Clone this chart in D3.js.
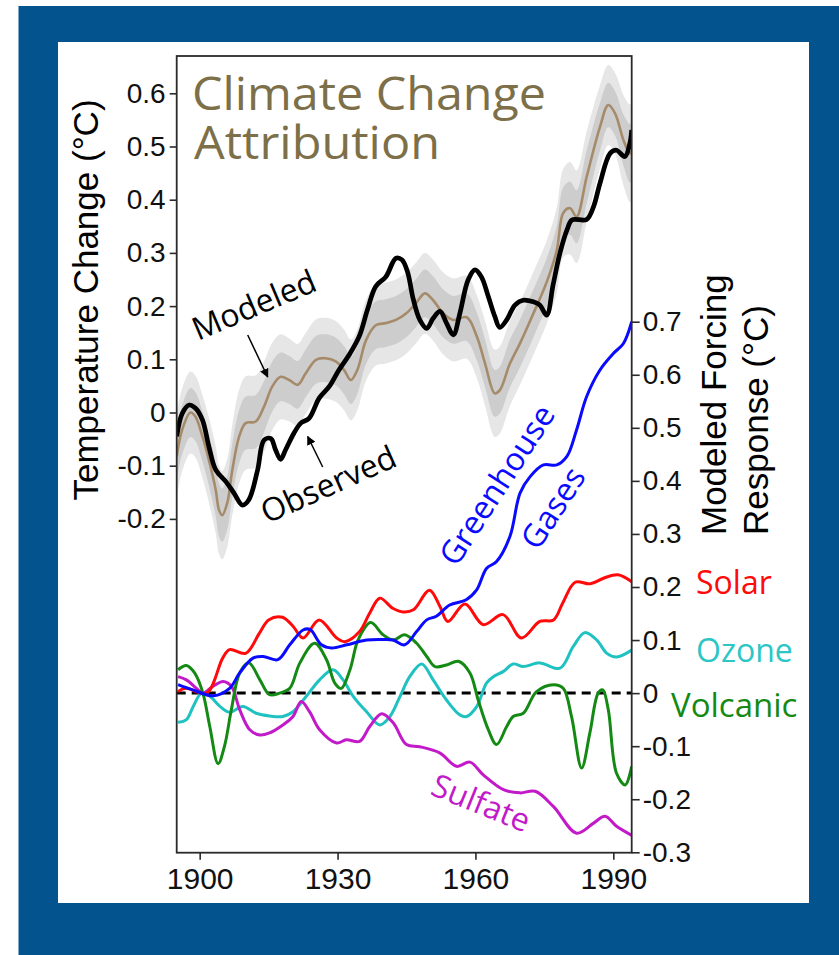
<!DOCTYPE html>
<html>
<head>
<meta charset="utf-8">
<script src="https://cdn.jsdelivr.net/npm/d3@7"></script>
<style>
  body { margin: 0; background: #ffffff; }
  svg { display: block; }
</style>
</head>
<body>
<div id="wrapper"></div>
<script>

// 1. Data

// observed global temperature change (°C, left axis)
const observedYears = [1895, 1896.2, 1897.7, 1899.1, 1900.6, 1902, 1903.5, 1905.7, 1907.5, 1909.3, 1910.7, 1912.6, 1914, 1915.5, 1916.5, 1917.6, 1918.7, 1920.5, 1922, 1923.8, 1926, 1928.2, 1930.3, 1932.5, 1934.7, 1936.5, 1938.3, 1940.5, 1942.7, 1944, 1945.2, 1946.5, 1947.9, 1949.4, 1950.8, 1952.3, 1953.7, 1955.2, 1956.6, 1958.4, 1959.9, 1961.3, 1962.8, 1964.2, 1965.3, 1966.8, 1968.6, 1970.4, 1972.6, 1974, 1975.5, 1976.9, 1978.4, 1980, 1981, 1984.2, 1985.7, 1987.1, 1989.3, 1990.7, 1992.5, 1993.6, 1994]
const observedTemp = [-0.045, -0.002, 0.014, 0.008, -0.014, -0.064, -0.108, -0.13, -0.152, -0.174, -0.164, -0.108, -0.052, -0.049, -0.07, -0.088, -0.07, -0.039, -0.02, -0.011, 0.027, 0.049, 0.08, 0.108, 0.143, 0.193, 0.237, 0.255, 0.29, 0.287, 0.265, 0.212, 0.174, 0.158, 0.177, 0.19, 0.168, 0.146, 0.186, 0.249, 0.268, 0.255, 0.218, 0.181, 0.16, 0.174, 0.202, 0.211, 0.208, 0.202, 0.183, 0.24, 0.3, 0.345, 0.362, 0.363, 0.387, 0.431, 0.487, 0.493, 0.481, 0.506, 0.531]

// modeled temperature change with its two uncertainty bands (half widths)
const modeledYears = [1895, 1896.2, 1898, 1899.1, 1900.6, 1902, 1903.5, 1904.2, 1904.9, 1906, 1907.1, 1908.6, 1910, 1912.2, 1914, 1915.8, 1917.6, 1919.5, 1921.3, 1923.1, 1925.3, 1927.4, 1929.6, 1931.4, 1932.9, 1934.3, 1936.2, 1938.3, 1940.5, 1942.7, 1944.9, 1947, 1949, 1950.8, 1953, 1955.2, 1958.1, 1960.3, 1962.1, 1964.2, 1965.3, 1967.5, 1969.7, 1972.6, 1975.5, 1977.7, 1979.1, 1980.6, 1982, 1984.2, 1987.1, 1988.9, 1990.4, 1992.2, 1993.6, 1994]
const modeledTemp = [-0.083, -0.032, 0.0, -0.008, -0.045, -0.089, -0.146, -0.183, -0.193, -0.17, -0.108, -0.045, -0.02, -0.017, 0.011, 0.049, 0.067, 0.061, 0.052, 0.074, 0.099, 0.102, 0.096, 0.08, 0.061, 0.08, 0.136, 0.164, 0.168, 0.174, 0.186, 0.205, 0.224, 0.211, 0.186, 0.174, 0.179, 0.143, 0.092, 0.036, 0.042, 0.092, 0.13, 0.186, 0.245, 0.305, 0.375, 0.384, 0.368, 0.443, 0.537, 0.578, 0.562, 0.512, 0.487, 0.49]
const bandInner = [0.045, 0.046, 0.046, 0.046, 0.047, 0.048, 0.05, 0.05, 0.05, 0.05, 0.05, 0.05, 0.05, 0.05, 0.048, 0.047, 0.046, 0.045, 0.045, 0.045, 0.045, 0.045, 0.045, 0.045, 0.045, 0.045, 0.045, 0.045, 0.045, 0.045, 0.045, 0.045, 0.045, 0.045, 0.045, 0.045, 0.045, 0.045, 0.045, 0.044, 0.044, 0.045, 0.045, 0.045, 0.045, 0.046, 0.048, 0.05, 0.05, 0.05, 0.045, 0.042, 0.042, 0.048, 0.055, 0.055]
const bandOuter = [0.078, 0.078, 0.077, 0.077, 0.078, 0.08, 0.082, 0.083, 0.083, 0.083, 0.085, 0.088, 0.088, 0.087, 0.085, 0.082, 0.08, 0.078, 0.077, 0.076, 0.076, 0.076, 0.076, 0.076, 0.076, 0.076, 0.076, 0.076, 0.076, 0.076, 0.076, 0.076, 0.076, 0.076, 0.077, 0.078, 0.078, 0.078, 0.08, 0.082, 0.082, 0.08, 0.078, 0.078, 0.078, 0.08, 0.083, 0.087, 0.087, 0.085, 0.078, 0.075, 0.076, 0.085, 0.092, 0.092]

// modeled forcing responses (°C, right axis)
const ghgYears = [1895.3, 1898.5, 1903, 1906.5, 1908.7, 1911.6, 1913.8, 1917, 1919.6, 1922.5, 1924, 1926.5, 1928.7, 1932, 1936.3, 1940, 1942.1, 1944.6, 1947.2, 1949.4, 1951.5, 1954.4, 1958, 1960.3, 1962.4, 1964.6, 1967.5, 1969.7, 1971.9, 1974.8, 1977.7, 1979.9, 1982, 1984.2, 1987.1, 1990, 1992.2, 1994]
const ghgValues = [0.016, 0.006, -0.005, 0.009, 0.038, 0.066, 0.069, 0.063, 0.091, 0.119, 0.12, 0.091, 0.085, 0.091, 0.1, 0.101, 0.1, 0.091, 0.116, 0.138, 0.145, 0.166, 0.176, 0.195, 0.235, 0.248, 0.295, 0.377, 0.408, 0.43, 0.43, 0.446, 0.496, 0.559, 0.609, 0.64, 0.659, 0.7]

const solarYears = [1895.3, 1897, 1901.5, 1905, 1906.5, 1910, 1913, 1915, 1918, 1920.3, 1922.5, 1926, 1929.8, 1931.6, 1934.8, 1937, 1939.2, 1942, 1944.3, 1946.5, 1950, 1952.3, 1954, 1957.7, 1961.7, 1966, 1970, 1974, 1977, 1979, 1981.7, 1985, 1988, 1991, 1994]
const solarValues = [0.003, 0.009, 0.0, 0.066, 0.082, 0.075, 0.113, 0.138, 0.143, 0.126, 0.104, 0.138, 0.104, 0.097, 0.116, 0.151, 0.179, 0.16, 0.153, 0.157, 0.194, 0.163, 0.135, 0.168, 0.129, 0.148, 0.104, 0.135, 0.138, 0.17, 0.209, 0.206, 0.217, 0.223, 0.21]

const ozoneYears = [1895.3, 1897.1, 1898.6, 1900.4, 1902.2, 1904.4, 1906.5, 1909.4, 1912.3, 1915.2, 1918.1, 1920.3, 1923.2, 1926.1, 1929, 1931.2, 1933.4, 1936.3, 1939.2, 1941.4, 1943.6, 1945.7, 1948.3, 1950.8, 1953.7, 1956.6, 1958.1, 1960.3, 1962.4, 1963.9, 1966.1, 1968.2, 1970.4, 1974, 1978.4, 1981.3, 1983.8, 1986.4, 1988.6, 1990.7, 1994]
const ozoneValues = [-0.055, -0.05, -0.025, 0.0, -0.006, -0.025, -0.036, -0.025, -0.038, -0.043, -0.044, -0.035, -0.006, 0.025, 0.044, 0.025, -0.006, -0.035, -0.06, -0.044, -0.006, 0.031, 0.055, 0.025, -0.013, -0.041, -0.044, -0.025, 0.019, 0.031, 0.041, 0.055, 0.05, 0.057, 0.047, 0.088, 0.114, 0.1, 0.075, 0.068, 0.081]

const volcanicYears = [1895.3, 1897.1, 1898.9, 1900.7, 1902.2, 1904, 1905.4, 1906.9, 1908.7, 1910.7, 1913.1, 1915.2, 1917.4, 1919.6, 1921.8, 1925, 1927.6, 1929.4, 1930.8, 1932.7, 1934.5, 1937.2, 1939.9, 1942.1, 1944.6, 1947.2, 1949.4, 1951.2, 1953.7, 1956.3, 1958.8, 1960.6, 1962.8, 1964.6, 1966.8, 1968.2, 1970.4, 1973.3, 1977, 1979.1, 1980.9, 1983.1, 1984.9, 1986.7, 1987.7, 1988.9, 1990.7, 1992.6, 1994]
const volcanicValues = [0.044, 0.052, 0.038, 0.0, -0.063, -0.133, -0.1, -0.031, 0.038, 0.057, 0.025, -0.003, 0.0, 0.009, 0.057, 0.094, 0.063, 0.019, 0.009, 0.044, 0.101, 0.133, 0.11, 0.1, 0.11, 0.094, 0.069, 0.05, 0.053, 0.06, 0.038, -0.013, -0.069, -0.097, -0.063, -0.044, -0.038, 0.003, 0.016, 0.009, -0.044, -0.141, -0.075, 0.0, 0.006, -0.031, -0.151, -0.173, -0.138]

const sulfateYears = [1895.3, 1897.1, 1899.3, 1900.7, 1902.9, 1905.1, 1906.9, 1908.7, 1910.9, 1913.1, 1915.2, 1918.1, 1920.3, 1922.1, 1923.9, 1926.1, 1929.8, 1931.9, 1934.8, 1937, 1939.6, 1942.1, 1945, 1947.9, 1952.3, 1955.9, 1958.8, 1961.7, 1966.1, 1969.7, 1973, 1977, 1982, 1985.7, 1988.2, 1990.7, 1994]
const sulfateValues = [0.031, 0.025, 0.009, 0.0, 0.013, 0.022, 0.013, -0.031, -0.069, -0.079, -0.075, -0.06, -0.044, -0.016, -0.035, -0.069, -0.094, -0.088, -0.091, -0.063, -0.039, -0.056, -0.097, -0.101, -0.113, -0.138, -0.13, -0.154, -0.182, -0.188, -0.185, -0.214, -0.264, -0.245, -0.232, -0.251, -0.268]

const yearTicks = [1900, 1930, 1960, 1990]
const tempTicks = [-0.2, -0.1, 0, 0.1, 0.2, 0.3, 0.4, 0.5, 0.6]
const forcingTicks = [-0.3, -0.2, -0.1, 0, 0.1, 0.2, 0.3, 0.4, 0.5, 0.6, 0.7]

const forcings = [
    {name: "Ozone", years: ozoneYears, values: ozoneValues, color: "#1fc1c1"},
    {name: "Sulfate", years: sulfateYears, values: sulfateValues, color: "#c21ac8"},
    {name: "Volcanic", years: volcanicYears, values: volcanicValues, color: "#148a14"},
    {name: "Solar", years: solarYears, values: solarValues, color: "#ff0a0a"},
    {name: "Greenhouse Gases", years: ghgYears, values: ghgValues, color: "#0a0aff"},
]

function draw() {

    // 2. Dimensions
    let dimensions = {
        width: 839,
        height: 955,
        frame: {left: 176.7, right: 631.7, top: 56, bottom: 852.7},
    }

    const wrapper = d3.select("#wrapper")
        .append("svg")
        .attr("width", dimensions.width)
        .attr("height", dimensions.height)

    // blue border and white panel
    wrapper.append("rect")
        .attr("x", 18.5).attr("y", 6)
        .attr("width", dimensions.width - 18.5).attr("height", dimensions.height - 6)
        .attr("fill", "#03538f")
    wrapper.append("rect")
        .attr("x", 58).attr("y", 42)
        .attr("width", 751).attr("height", 861)
        .attr("fill", "#ffffff")

    // 3. Scales
    const f = dimensions.frame
    const xScale = d3.scaleLinear().domain([1895, 1994]).range([f.left, f.right])
    const yTemp = d3.scaleLinear().domain([-0.2, 0.6]).range([518.9, 93.3])
    const yForce = d3.scaleLinear().domain([-0.3, 0.7]).range([852.3, 321.7])

    const defs = wrapper.append("defs")
    defs.append("clipPath")
        .attr("id", "frameClip")
        .append("rect")
        .attr("x", f.left).attr("y", f.top)
        .attr("width", f.right - f.left).attr("height", f.bottom - f.top)

    defs.append("marker")
        .attr("id", "arrow")
        .attr("viewBox", "0 0 10 10")
        .attr("refX", 9).attr("refY", 5)
        .attr("markerWidth", 9).attr("markerHeight", 9)
        .attr("markerUnits", "userSpaceOnUse")
        .attr("orient", "auto")
        .append("path")
        .attr("d", "M0,0 L10,5 L0,10 Z")
        .attr("fill", "#000")

    const bounds = wrapper.append("g").attr("clip-path", "url(#frameClip)")

    // 4. Upper panel: modeled bands, modeled line, observed line
    const modeled = modeledYears.map((yr, i) => ({
        year: yr, value: modeledTemp[i], inner: bandInner[i], outer: bandOuter[i]
    }))
    const observed = observedYears.map((yr, i) => ({year: yr, value: observedTemp[i]}))

    const curve = d3.curveCatmullRom.alpha(0.5)

    const outerArea = d3.area()
        .x(d => xScale(d.year))
        .y0(d => yTemp(d.value - d.outer))
        .y1(d => yTemp(d.value + d.outer))
        .curve(curve)
    const innerArea = d3.area()
        .x(d => xScale(d.year))
        .y0(d => yTemp(d.value - d.inner))
        .y1(d => yTemp(d.value + d.inner))
        .curve(curve)
    const tempLine = d3.line()
        .x(d => xScale(d.year))
        .y(d => yTemp(d.value))
        .curve(curve)

    bounds.append("path").attr("d", outerArea(modeled)).attr("fill", "#e6e6e6")
    bounds.append("path").attr("d", innerArea(modeled)).attr("fill", "#cdcdcd")
    bounds.append("path").attr("d", tempLine(modeled))
        .attr("fill", "none").attr("stroke", "#a68b6b").attr("stroke-width", 2.6)
    bounds.append("path").attr("d", tempLine(observed))
        .attr("fill", "none").attr("stroke", "#000").attr("stroke-width", 4.7)
        .attr("stroke-linejoin", "round")

    // 5. Lower panel: forcing responses
    bounds.append("line")
        .attr("x1", f.left).attr("x2", f.right)
        .attr("y1", yForce(0)).attr("y2", yForce(0))
        .attr("stroke", "#000").attr("stroke-width", 3)
        .attr("stroke-dasharray", "9,6")

    const forceLine = d3.line()
        .x(d => xScale(d[0]))
        .y(d => yForce(d[1]))
        .curve(curve)

    bounds.selectAll(".forcing")
        .data(forcings)
        .join("path")
        .attr("class", "forcing")
        .attr("d", d => forceLine(d3.zip(d.years, d.values)))
        .attr("fill", "none")
        .attr("stroke", d => d.color)
        .attr("stroke-width", 3)

    // 6. Frame and axes
    wrapper.append("rect")
        .attr("x", f.left).attr("y", f.top)
        .attr("width", f.right - f.left).attr("height", f.bottom - f.top)
        .attr("fill", "none").attr("stroke", "#2a2a2a").attr("stroke-width", 1.8)

    const fmt = d => d === 0 ? "0" : d.toFixed(1)

    const leftAxis = wrapper.append("g")
        .attr("transform", `translate(${f.left},0)`)
        .call(d3.axisLeft(yTemp).tickValues(tempTicks).tickFormat(fmt).tickSize(7).tickPadding(4))
    const rightAxis = wrapper.append("g")
        .attr("transform", `translate(${f.right},0)`)
        .call(d3.axisRight(yForce).tickValues(forcingTicks).tickFormat(fmt).tickSize(8).tickPadding(3))
    const bottomAxis = wrapper.append("g")
        .attr("transform", `translate(0,${f.bottom})`)
        .call(d3.axisBottom(xScale).tickValues(yearTicks).tickFormat(d3.format("d")).tickSize(7).tickPadding(8))

    ;[leftAxis, rightAxis, bottomAxis].forEach(axis => {
        axis.select(".domain").remove()
        axis.selectAll(".tick line").attr("stroke", "#2a2a2a").attr("stroke-width", 1.6)
        axis.selectAll(".tick text")
            .attr("fill", "#111")
            .style("font-family", "'Liberation Sans', Arial, sans-serif")
            .style("font-size", "28px")
    })
    bottomAxis.selectAll(".tick text").style("font-size", "30px")

    // axis titles
    wrapper.append("text")
        .attr("transform", "translate(98,300) rotate(-90)")
        .attr("text-anchor", "middle")
        .style("font-family", "'Liberation Sans', Arial, sans-serif")
        .style("font-size", "35px")
        .attr("fill", "#000")
        .text("Temperature Change (°C)")

    const rightTitle = ["Modeled Forcing", "Response (°C)"]
    wrapper.selectAll(".rightTitle")
        .data(rightTitle)
        .join("text")
        .attr("class", "rightTitle")
        .attr("transform", (d, i) => `translate(${726 + i * 42},535) rotate(-90)`)
        .attr("text-anchor", "start")
        .style("font-family", "'Liberation Sans', Arial, sans-serif")
        .style("font-size", "35px")
        .attr("fill", "#000")
        .text(d => d)

    // 7. Title and labels
    const titleLines = ["Climate Change", "Attribution"]
    wrapper.selectAll(".title")
        .data(titleLines)
        .join("text")
        .attr("class", "title")
        .attr("x", (d, i) => i === 0 ? 192 : 194)
        .attr("y", (d, i) => i === 0 ? 110 : 159)
        .attr("textLength", (d, i) => i === 0 ? 354 : 246)
        .attr("lengthAdjust", "spacingAndGlyphs")
        .style("font-family", "'Open Sans', sans-serif")
        .style("font-size", "45px")
        .attr("fill", "#7d7049")
        .text(d => d)

    const labels = wrapper.append("g")
        .style("font-family", "'Open Sans', sans-serif")
        .style("font-size", "32px")

    labels.append("text")
        .attr("transform", "translate(198,341) rotate(-23)")
        .attr("fill", "#000")
        .text("Modeled")
    labels.append("text")
        .attr("transform", "translate(267,524) rotate(-24)")
        .attr("fill", "#000")
        .text("Observed")

    wrapper.append("line")
        .attr("x1", 247.7).attr("y1", 335).attr("x2", 267.7).attr("y2", 377)
        .attr("stroke", "#000").attr("stroke-width", 1.5)
        .attr("marker-end", "url(#arrow)")
    wrapper.append("line")
        .attr("x1", 322.7).attr("y1", 467).attr("x2", 307.7).attr("y2", 436.5)
        .attr("stroke", "#000").attr("stroke-width", 1.5)
        .attr("marker-end", "url(#arrow)")

    labels.append("text")
        .attr("transform", "translate(497,485) rotate(-57)")
        .attr("text-anchor", "middle").attr("dy", "0.35em")
        .attr("fill", "#0a0aff")
        .text("Greenhouse")
    labels.append("text")
        .attr("transform", "translate(553,508) rotate(-57)")
        .attr("text-anchor", "middle").attr("dy", "0.35em")
        .attr("fill", "#0a0aff")
        .text("Gases")
    labels.append("text")
        .attr("transform", "translate(481,803) rotate(22)")
        .attr("text-anchor", "middle").attr("dy", "0.35em")
        .attr("fill", "#c21ac8")
        .text("Sulfate")
    labels.append("text").attr("x", 696).attr("y", 594).attr("fill", "#ff0a0a").text("Solar")
    labels.append("text").attr("x", 696).attr("y", 662).attr("fill", "#2cc6c6").text("Ozone")
    labels.append("text").attr("x", 671).attr("y", 717).attr("fill", "#148a14")
        .style("font-size", "33px").text("Volcanic")
}

draw()
</script>
</body>
</html>
